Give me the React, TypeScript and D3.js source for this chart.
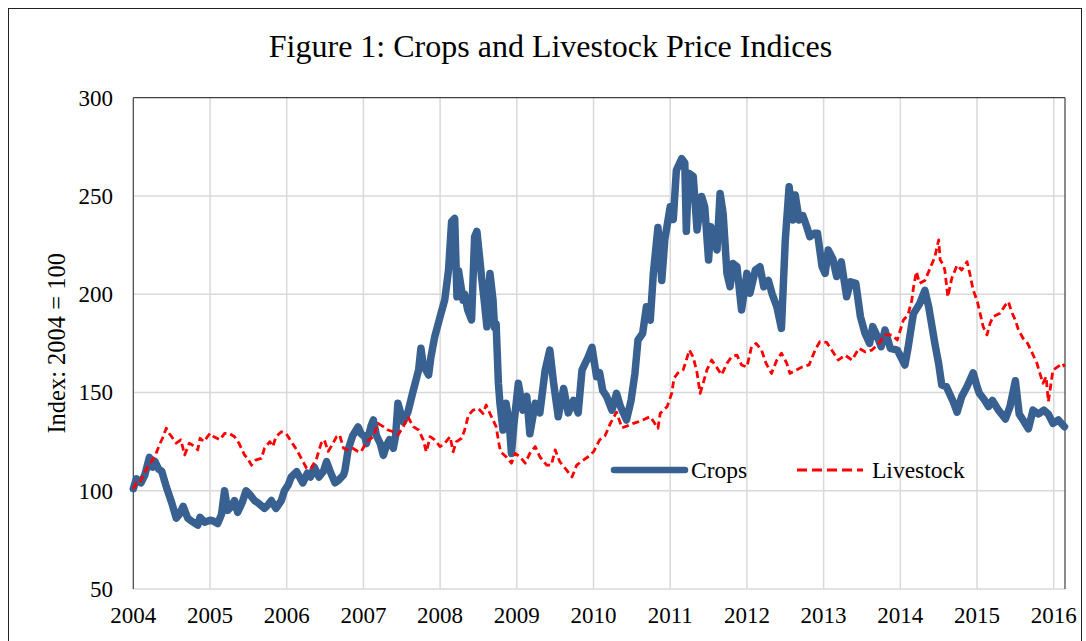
import React from "react";
import * as d3 from "d3";

// Readings taken off the figure: [decimal year, index value]
const crops: [number, number][] = [
  [2004.0, 101], [2004.04, 106], [2004.1, 104], [2004.15, 108], [2004.21, 117],
  [2004.25, 112], [2004.28, 115], [2004.33, 111], [2004.37, 110], [2004.43, 102],
  [2004.5, 94], [2004.56, 86], [2004.6, 88], [2004.65, 92], [2004.71, 86],
  [2004.78, 84], [2004.84, 82.5], [2004.87, 86.5], [2004.93, 84], [2005.0, 85],
  [2005.05, 84.5], [2005.1, 83.3], [2005.15, 88], [2005.19, 100], [2005.23, 90],
  [2005.28, 92], [2005.32, 95], [2005.36, 89], [2005.42, 94], [2005.47, 100],
  [2005.52, 98], [2005.58, 95], [2005.63, 93.7], [2005.71, 91], [2005.76, 93],
  [2005.8, 95], [2005.86, 91], [2005.93, 95], [2005.97, 100], [2006.02, 103],
  [2006.06, 107], [2006.13, 109.7], [2006.21, 104], [2006.27, 109], [2006.31, 107],
  [2006.36, 112], [2006.42, 107], [2006.48, 110], [2006.52, 114.8], [2006.56, 110.5],
  [2006.63, 104], [2006.68, 105.5], [2006.74, 108], [2006.76, 110.5], [2006.8, 120.7],
  [2006.86, 128], [2006.93, 132.5], [2006.97, 129], [2007.02, 127.5], [2007.04, 124],
  [2007.1, 133], [2007.13, 136], [2007.17, 128], [2007.22, 124], [2007.26, 118],
  [2007.3, 123], [2007.34, 126], [2007.39, 121.6], [2007.42, 128], [2007.45, 144.5],
  [2007.52, 135], [2007.58, 140], [2007.65, 151], [2007.72, 161.4], [2007.75, 172.5],
  [2007.78, 164], [2007.85, 158.9], [2007.88, 168], [2007.93, 178.4], [2008.0, 188.6],
  [2008.06, 197], [2008.11, 212.3], [2008.15, 237], [2008.19, 238.6], [2008.22, 198.7],
  [2008.24, 212], [2008.3, 197], [2008.32, 200], [2008.36, 192], [2008.41, 186.9],
  [2008.45, 229.3], [2008.48, 232], [2008.54, 209], [2008.58, 195], [2008.61, 183.4],
  [2008.65, 210.6], [2008.69, 197], [2008.71, 183], [2008.73, 185], [2008.76, 154.7],
  [2008.78, 144.5], [2008.82, 130.9], [2008.86, 144.5], [2008.9, 135], [2008.93, 119],
  [2008.96, 133], [2009.02, 154.7], [2009.08, 141], [2009.13, 148], [2009.17, 129],
  [2009.24, 144.5], [2009.3, 139.6], [2009.37, 161.4], [2009.43, 171.6], [2009.48, 154.7],
  [2009.54, 137.6], [2009.61, 152], [2009.67, 139.6], [2009.74, 146], [2009.8, 139.6],
  [2009.85, 161.4], [2009.93, 168], [2009.98, 173], [2010.04, 158], [2010.08, 160],
  [2010.12, 151], [2010.17, 148], [2010.24, 141], [2010.3, 149.6], [2010.35, 143],
  [2010.43, 136], [2010.49, 146], [2010.54, 159.7], [2010.58, 176.7], [2010.64, 180],
  [2010.69, 193.6], [2010.74, 186.8], [2010.78, 210.6], [2010.84, 234], [2010.89, 207],
  [2010.93, 228], [2011.0, 244.5], [2011.04, 238], [2011.08, 263], [2011.15, 269],
  [2011.19, 266.8], [2011.21, 232], [2011.24, 261.6], [2011.3, 260], [2011.35, 232.7],
  [2011.41, 249.7], [2011.45, 244.5], [2011.5, 217.4], [2011.53, 234.4], [2011.61, 222.5],
  [2011.65, 251.3], [2011.69, 241], [2011.74, 210.6], [2011.78, 203.8], [2011.82, 215.6],
  [2011.87, 214], [2011.93, 192], [2012.0, 210.6], [2012.04, 200.5], [2012.11, 212.3],
  [2012.17, 214], [2012.22, 203.8], [2012.28, 207], [2012.33, 200], [2012.39, 193.6],
  [2012.45, 182.6], [2012.5, 227.4], [2012.55, 254.7], [2012.6, 237.8], [2012.63, 250.5],
  [2012.68, 237.8], [2012.73, 240], [2012.78, 234.4], [2012.82, 229.3], [2012.88, 231],
  [2012.92, 231], [2012.98, 214], [2013.02, 210.6], [2013.06, 222.5], [2013.12, 218],
  [2013.17, 209], [2013.23, 216.5], [2013.3, 198.7], [2013.35, 206.3], [2013.42, 205.5],
  [2013.48, 188.6], [2013.54, 180], [2013.6, 175], [2013.64, 183.5], [2013.7, 178.4],
  [2013.75, 173.3], [2013.8, 181.8], [2013.87, 172.5], [2013.96, 171.6], [2014.06, 164],
  [2014.1, 172.5], [2014.17, 190], [2014.25, 195], [2014.32, 202], [2014.37, 193.6],
  [2014.45, 175], [2014.5, 164.6], [2014.54, 153.8], [2014.6, 153], [2014.69, 145.3],
  [2014.74, 140], [2014.8, 147.9], [2014.87, 153], [2014.95, 160], [2015.0, 153],
  [2015.03, 149.6], [2015.1, 146], [2015.15, 142.8], [2015.2, 146], [2015.28, 141],
  [2015.37, 136.5], [2015.43, 142.8], [2015.5, 156], [2015.55, 139], [2015.6, 136],
  [2015.67, 131.5], [2015.73, 141], [2015.8, 139], [2015.87, 141], [2015.93, 139],
  [2015.99, 134.3], [2016.06, 136], [2016.14, 132.6],
];

const livestock: [number, number][] = [
  [2004.0, 101], [2004.04, 104], [2004.08, 103.8], [2004.13, 108], [2004.19, 112.3],
  [2004.24, 115], [2004.28, 117.3], [2004.34, 123.3], [2004.38, 126.7], [2004.43, 131.8],
  [2004.47, 129], [2004.5, 127.5], [2004.56, 124.2], [2004.62, 125.9], [2004.67, 118.2],
  [2004.73, 124.2], [2004.8, 122.5], [2004.84, 120.8], [2004.87, 126.7], [2004.92, 125],
  [2005.0, 129.2], [2005.05, 127.5], [2005.13, 125.9], [2005.19, 129.2], [2005.25, 129.2],
  [2005.32, 127.5], [2005.38, 124], [2005.45, 118.2], [2005.49, 116.5], [2005.54, 113],
  [2005.6, 115.7], [2005.67, 116.5], [2005.71, 121.6], [2005.78, 125], [2005.82, 122.5],
  [2005.86, 127.5], [2005.93, 130], [2005.99, 129.2], [2006.06, 125], [2006.13, 120.8],
  [2006.19, 116.5], [2006.26, 111.4], [2006.32, 111.4], [2006.39, 116.5], [2006.45, 124.2],
  [2006.49, 125.9], [2006.54, 120], [2006.58, 122.5], [2006.65, 127.5], [2006.69, 128.4],
  [2006.74, 121.6], [2006.8, 120.8], [2006.86, 121.6], [2006.93, 120], [2006.97, 119.8],
  [2007.04, 124.9], [2007.13, 127.5], [2007.19, 134.3], [2007.26, 132.6], [2007.32, 130.9],
  [2007.39, 130], [2007.45, 128.4], [2007.52, 132.6], [2007.58, 137.6], [2007.65, 132.6],
  [2007.72, 130.9], [2007.78, 125.9], [2007.82, 119.8], [2007.87, 127.5], [2007.93, 125.9],
  [2008.0, 122.5], [2008.06, 124.2], [2008.13, 127.5], [2008.17, 119.8], [2008.21, 124.9],
  [2008.28, 126.7], [2008.32, 130.9], [2008.37, 138.5], [2008.43, 141], [2008.5, 141.8],
  [2008.56, 139.3], [2008.6, 143.6], [2008.65, 139.3], [2008.69, 136], [2008.73, 132.6],
  [2008.77, 123.3], [2008.79, 119.8], [2008.86, 117.3], [2008.93, 114], [2008.98, 119],
  [2009.04, 117.3], [2009.11, 114], [2009.17, 119], [2009.24, 122.5], [2009.3, 117.3],
  [2009.39, 113], [2009.45, 113], [2009.5, 120.8], [2009.56, 114.8], [2009.65, 110.5],
  [2009.72, 107], [2009.78, 113], [2009.84, 114.8], [2009.93, 117.3], [2010.0, 119.8],
  [2010.08, 125.9], [2010.15, 128], [2010.22, 134.3], [2010.3, 140], [2010.37, 132],
  [2010.44, 133], [2010.52, 134.3], [2010.58, 135], [2010.64, 136], [2010.74, 137.7],
  [2010.84, 131.8], [2010.87, 139.4], [2010.96, 142.8], [2011.02, 149.6], [2011.05, 157.3],
  [2011.1, 159.9], [2011.17, 161.6], [2011.21, 166.5], [2011.25, 171.6], [2011.3, 168],
  [2011.35, 159.9], [2011.39, 149.6], [2011.43, 154.7], [2011.48, 161.6], [2011.54, 166.5],
  [2011.6, 163.1], [2011.67, 159], [2011.74, 164.8], [2011.8, 168.2], [2011.87, 169],
  [2011.93, 164], [2012.0, 163], [2012.06, 173.3], [2012.12, 175], [2012.19, 171.6],
  [2012.25, 164.8], [2012.32, 159.7], [2012.39, 166.5], [2012.45, 170], [2012.52, 164.8],
  [2012.56, 159.7], [2012.64, 161.4], [2012.72, 163], [2012.81, 164], [2012.89, 171.6],
  [2012.95, 175.9], [2013.04, 175.5], [2013.12, 170.7], [2013.19, 166.5], [2013.28, 169],
  [2013.37, 166.5], [2013.46, 172.5], [2013.54, 170.7], [2013.63, 171.6], [2013.72, 175],
  [2013.8, 179.3], [2013.89, 179.3], [2013.96, 176.7], [2014.04, 186.9], [2014.1, 189.4],
  [2014.15, 197], [2014.17, 203], [2014.21, 211.5], [2014.25, 205.5], [2014.32, 207],
  [2014.37, 211.5], [2014.45, 219], [2014.5, 227.6], [2014.52, 217.4], [2014.56, 215],
  [2014.58, 212.3], [2014.62, 198.7], [2014.67, 208], [2014.74, 214.8], [2014.8, 212.3],
  [2014.87, 216.5], [2014.91, 209.8], [2014.95, 202], [2015.0, 197], [2015.04, 190.3],
  [2015.08, 183.5], [2015.13, 179.3], [2015.17, 185.2], [2015.21, 188.6], [2015.3, 190.3],
  [2015.37, 194.5], [2015.41, 196.2], [2015.45, 191], [2015.5, 186.9], [2015.54, 181.8],
  [2015.6, 177.6], [2015.66, 175], [2015.72, 170], [2015.78, 165], [2015.82, 159.7],
  [2015.86, 154.7], [2015.9, 158], [2015.93, 145.3], [2015.99, 161.4], [2016.05, 163],
  [2016.12, 164.8], [2016.14, 163],
];

const yearTicks = [2004, 2005, 2006, 2007, 2008, 2009, 2010, 2011, 2012, 2013, 2014, 2015, 2016];
const valueTicks = [50, 100, 150, 200, 250, 300];

const FONT = "'Liberation Serif', 'Times New Roman', serif";
const BLUE = "#386192";
const RED = "#ff0000";

export default function App() {
  const left = 133.3;
  const right = 1065;
  const top = 97.7;
  const bottom = 589;

  const x = d3.scaleLinear().domain([2004, 2016.147]).range([left, right]);
  const y = d3.scaleLinear().domain([50, 300]).range([bottom, top]);

  const line = d3
    .line<[number, number]>()
    .x((d) => x(d[0]))
    .y((d) => y(d[1]));

  return (
    <div style={{ position: "absolute", left: 0, top: 0 }}>
      <svg width={1086} height={641} style={{ display: "block" }}>
        <rect x={0} y={0} width={1086} height={641} fill="#fff" />
        {/* outer frame */}
        <rect x={8.5} y={8.5} width={1073} height={700} fill="none" stroke="#222" strokeWidth={1} />

        <text x={550.5} y={57} textAnchor="middle" fontFamily={FONT} fontSize={32} fill="#000">
          Figure 1: Crops and Livestock Price Indices
        </text>

        {/* gridlines */}
        {yearTicks.slice(1).map((t) => (
          <line key={"vx" + t} x1={x(t)} x2={x(t)} y1={top} y2={bottom} stroke="#d9d9d9" strokeWidth={1.5} />
        ))}
        {valueTicks.slice(0, -1).map((v) => (
          <line key={"hy" + v} x1={left} x2={right} y1={y(v)} y2={y(v)} stroke="#d9d9d9" strokeWidth={1.5} />
        ))}

        {/* plot frame */}
        <line x1={left} x2={right} y1={top} y2={top} stroke="#404040" strokeWidth={1.2} />
        <line x1={right} x2={right} y1={top} y2={bottom} stroke="#404040" strokeWidth={1.2} />
        <line x1={left} x2={left} y1={top} y2={bottom} stroke="#404040" strokeWidth={1.2} />

        {/* series */}
        <path d={line(crops) || ""} fill="none" stroke={BLUE} strokeWidth={7.5} strokeLinejoin="round" strokeLinecap="round" />
        <path d={line(livestock) || ""} fill="none" stroke={RED} strokeWidth={2.8} strokeDasharray="7 4" strokeLinejoin="round" />

        {/* tick labels */}
        {yearTicks.map((t) => (
          <text key={"xl" + t} x={x(t)} y={623} textAnchor="middle" fontFamily={FONT} fontSize={23} fill="#000">
            {t}
          </text>
        ))}
        {valueTicks.map((v) => (
          <text key={"yl" + v} x={113} y={y(v) + 8} textAnchor="end" fontFamily={FONT} fontSize={23} fill="#000">
            {v}
          </text>
        ))}

        <text
          transform={`translate(65, ${(top + bottom) / 2}) rotate(-90)`}
          textAnchor="middle"
          fontFamily={FONT}
          fontSize={24.5}
          fill="#000"
        >
          Index: 2004 = 100
        </text>

        {/* legend */}
        <line x1={614} x2={685} y1={470} y2={470} stroke={BLUE} strokeWidth={6.5} strokeLinecap="round" />
        <text x={691} y={478} fontFamily={FONT} fontSize={23.5} fill="#000">Crops</text>
        <line x1={797} x2={863} y1={470} y2={470} stroke={RED} strokeWidth={2.8} strokeDasharray="10 5" />
        <text x={872} y={478} fontFamily={FONT} fontSize={23.5} fill="#000">Livestock</text>
      </svg>
    </div>
  );
}
